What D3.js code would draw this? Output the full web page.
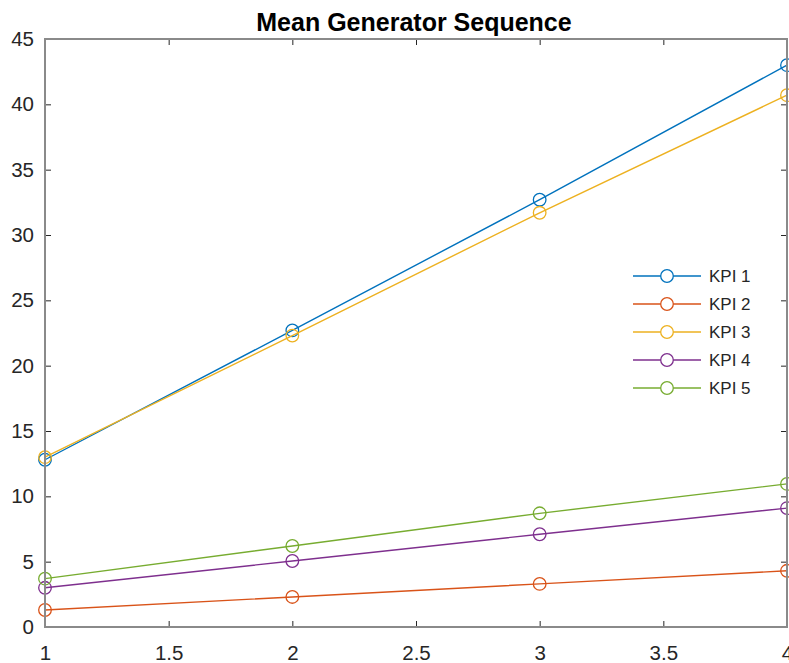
<!DOCTYPE html>
<html>
<head>
    <title>Mean Generator Sequence</title>
    <script src="https://cdn.jsdelivr.net/npm/d3@7"></script>
    <style>
        body {
            margin: 0;
            padding: 0;
            background-color: white;
            font-family: "Liberation Sans", Arial, Helvetica, sans-serif;
        }
        .tick text {
            fill: #262626;
            font-size: 20.5px;
        }
        .legend-label {
            fill: #262626;
            font-size: 17px;
        }
    </style>
</head>
<body>
    <div id="chart"></div>
    <script>
        // chart values
        const xValues = [1, 2, 3, 4];
        const seriesNames = ["KPI 1", "KPI 2", "KPI 3", "KPI 4", "KPI 5"];
        const kpi1 = [12.8, 22.7, 32.7, 43.0];
        const kpi2 = [1.3, 2.3, 3.3, 4.3];
        const kpi3 = [13.0, 22.3, 31.7, 40.7];
        const kpi4 = [3.0, 5.05, 7.1, 9.1];
        const kpi5 = [3.7, 6.2, 8.7, 10.95];
        const xTicks = [1, 1.5, 2, 2.5, 3, 3.5, 4];
        const yTicks = [0, 5, 10, 15, 20, 25, 30, 35, 40, 45];
        const colors = ["#0072BD", "#D95319", "#EDB120", "#7E2F8E", "#77AC30"];

        const allSeries = [kpi1, kpi2, kpi3, kpi4, kpi5];

        const width = 789, height = 663;
        const margin = { top: 39, right: 2, bottom: 36, left: 45 };
        const innerW = width - margin.left - margin.right;
        const innerH = height - margin.top - margin.bottom;

        const svg = d3.select("#chart")
            .append("svg")
            .attr("width", width)
            .attr("height", height);

        const g = svg.append("g")
            .attr("transform", `translate(${margin.left},${margin.top})`);

        const x = d3.scaleLinear().domain([1, 4]).range([0, innerW]);
        const y = d3.scaleLinear().domain([0, 45]).range([innerH, 0]);

        const axisColor = "#8a8a8a";

        // ticks point inward on all four sides (matlab box style)
        const xAxis = g.append("g")
            .attr("transform", `translate(0,${innerH})`)
            .call(d3.axisBottom(x).tickValues(xTicks).tickFormat(d3.format("")).tickSizeInner(-6).tickSizeOuter(0).tickPadding(18));
        const yAxis = g.append("g")
            .call(d3.axisLeft(y).tickValues(yTicks).tickSizeInner(-6).tickSizeOuter(0).tickPadding(11));
        const xTop = g.append("g")
            .call(d3.axisTop(x).tickValues(xTicks).tickFormat("").tickSizeInner(-6).tickSizeOuter(0));
        const yRight = g.append("g")
            .attr("transform", `translate(${innerW},0)`)
            .call(d3.axisRight(y).tickValues(yTicks).tickFormat("").tickSizeInner(-6).tickSizeOuter(0));

        [xAxis, yAxis, xTop, yRight].forEach(a => {
            a.select(".domain").remove();
            a.selectAll(".tick line").attr("stroke", "#262626").attr("stroke-width", 1);
        });

        // lines and markers
        const line = d3.line()
            .x((d, i) => x(xValues[i]))
            .y(d => y(d));

        allSeries.forEach((vals, s) => {
            g.append("path")
                .datum(vals)
                .attr("fill", "none")
                .attr("stroke", colors[s])
                .attr("stroke-width", 1.4)
                .attr("d", line);

            g.selectAll(".m" + s)
                .data(vals)
                .enter()
                .append("circle")
                .attr("class", "m" + s)
                .attr("cx", (d, i) => x(xValues[i]))
                .attr("cy", d => y(d))
                .attr("r", 6.3)
                .attr("fill", "none")
                .attr("stroke", colors[s])
                .attr("stroke-width", 1.3);
        });

        // axes box
        g.append("rect")
            .attr("x", 0)
            .attr("y", 0)
            .attr("width", innerW)
            .attr("height", innerH)
            .attr("fill", "none")
            .attr("stroke", axisColor)
            .attr("stroke-width", 2);

        // title
        svg.append("text")
            .attr("x", margin.left + innerW / 2 - 2)
            .attr("y", 31)
            .attr("text-anchor", "middle")
            .style("font-size", "25px")
            .style("font-weight", "bold")
            .style("fill", "#000")
            .text("Mean Generator Sequence");

        // legend
        const legend = svg.append("g").attr("transform", "translate(633,276)");
        seriesNames.forEach((name, i) => {
            const row = legend.append("g").attr("transform", `translate(0,${i * 28})`);
            row.append("line")
                .attr("x1", 0).attr("x2", 68)
                .attr("y1", 0).attr("y2", 0)
                .attr("stroke", colors[i])
                .attr("stroke-width", 1.4);
            row.append("circle")
                .attr("cx", 34).attr("cy", 0).attr("r", 6.3)
                .attr("fill", "white")
                .attr("stroke", colors[i])
                .attr("stroke-width", 1.3);
            row.append("text")
                .attr("class", "legend-label")
                .attr("x", 76)
                .attr("y", 6)
                .text(name);
        });
    </script>
</body>
</html>
